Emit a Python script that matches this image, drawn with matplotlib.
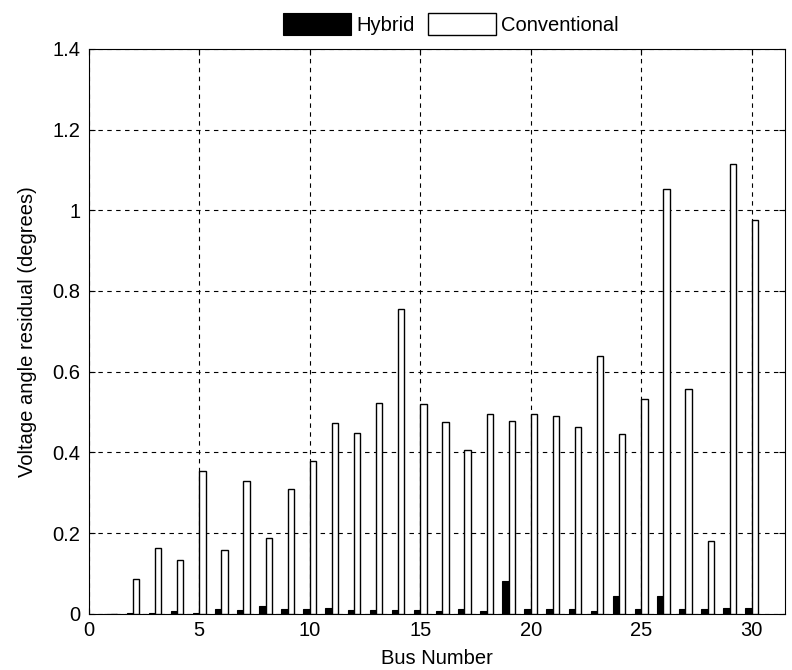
import numpy as np
import matplotlib.pyplot as plt

plt.rcParams['font.family'] = ['Liberation Sans', 'DejaVu Sans']

buses = list(range(1, 31))
hybrid = [0.0, 0.003, 0.003, 0.007, 0.003, 0.011, 0.008, 0.020, 0.011, 0.011,
          0.015, 0.008, 0.008, 0.008, 0.008, 0.006, 0.011, 0.007, 0.082, 0.011,
          0.011, 0.011, 0.007, 0.045, 0.011, 0.045, 0.011, 0.011, 0.015, 0.015]
conventional = [0.0, 0.087, 0.164, 0.134, 0.355, 0.159, 0.330, 0.187, 0.310, 0.379,
                0.472, 0.449, 0.522, 0.756, 0.520, 0.474, 0.405, 0.494, 0.478, 0.495,
                0.490, 0.462, 0.640, 0.446, 0.532, 1.052, 0.556, 0.180, 1.115, 0.976]


def main():
    fs = 14.5
    fig = plt.figure(figsize=(7.92, 6.7), dpi=100)
    ax = fig.add_axes([0.112, 0.084, 0.879, 0.843])

    # barras agrupadas no estilo do MATLAB: as duas barras de cada grupo se tocam
    x = np.array(buses)
    w = 0.286
    ax.bar(x - w / 2, hybrid, w, color='black', edgecolor='black', linewidth=0.8,
           label='Hybrid', zorder=3)
    ax.bar(x + w / 2, conventional, w, color='white', edgecolor='black', linewidth=1.0,
           label='Conventional', zorder=3)

    ax.set_xlim(0, 31.5)
    ax.set_ylim(0, 1.4)
    ax.set_xticks(range(0, 31, 5))
    ax.set_yticks(np.arange(0, 1.41, 0.2))
    ax.set_yticklabels(['0', '0.2', '0.4', '0.6', '0.8', '1', '1.2', '1.4'])
    ax.tick_params(direction='in', top=True, right=True, labelsize=fs, length=4)
    ax.tick_params(axis='y', pad=6)
    ax.tick_params(axis='x', pad=5)
    ax.grid(True, color='black', linestyle=(0, (4, 4)), linewidth=0.8, zorder=0)
    ax.set_axisbelow(True)

    ax.set_xlabel('Bus Number', fontsize=fs, labelpad=7)
    ax.set_ylabel('Voltage angle residual (degrees)', fontsize=fs, labelpad=11)

    ax.legend(loc='lower center', bbox_to_anchor=(0.52, 1.0), ncol=2, frameon=False,
              fontsize=fs, handlelength=3.4, handleheight=1.25, handletextpad=0.25,
              columnspacing=0.65, borderaxespad=0.3)

    fig.savefig('out.png', dpi=100)


if __name__ == '__main__':
    main()
